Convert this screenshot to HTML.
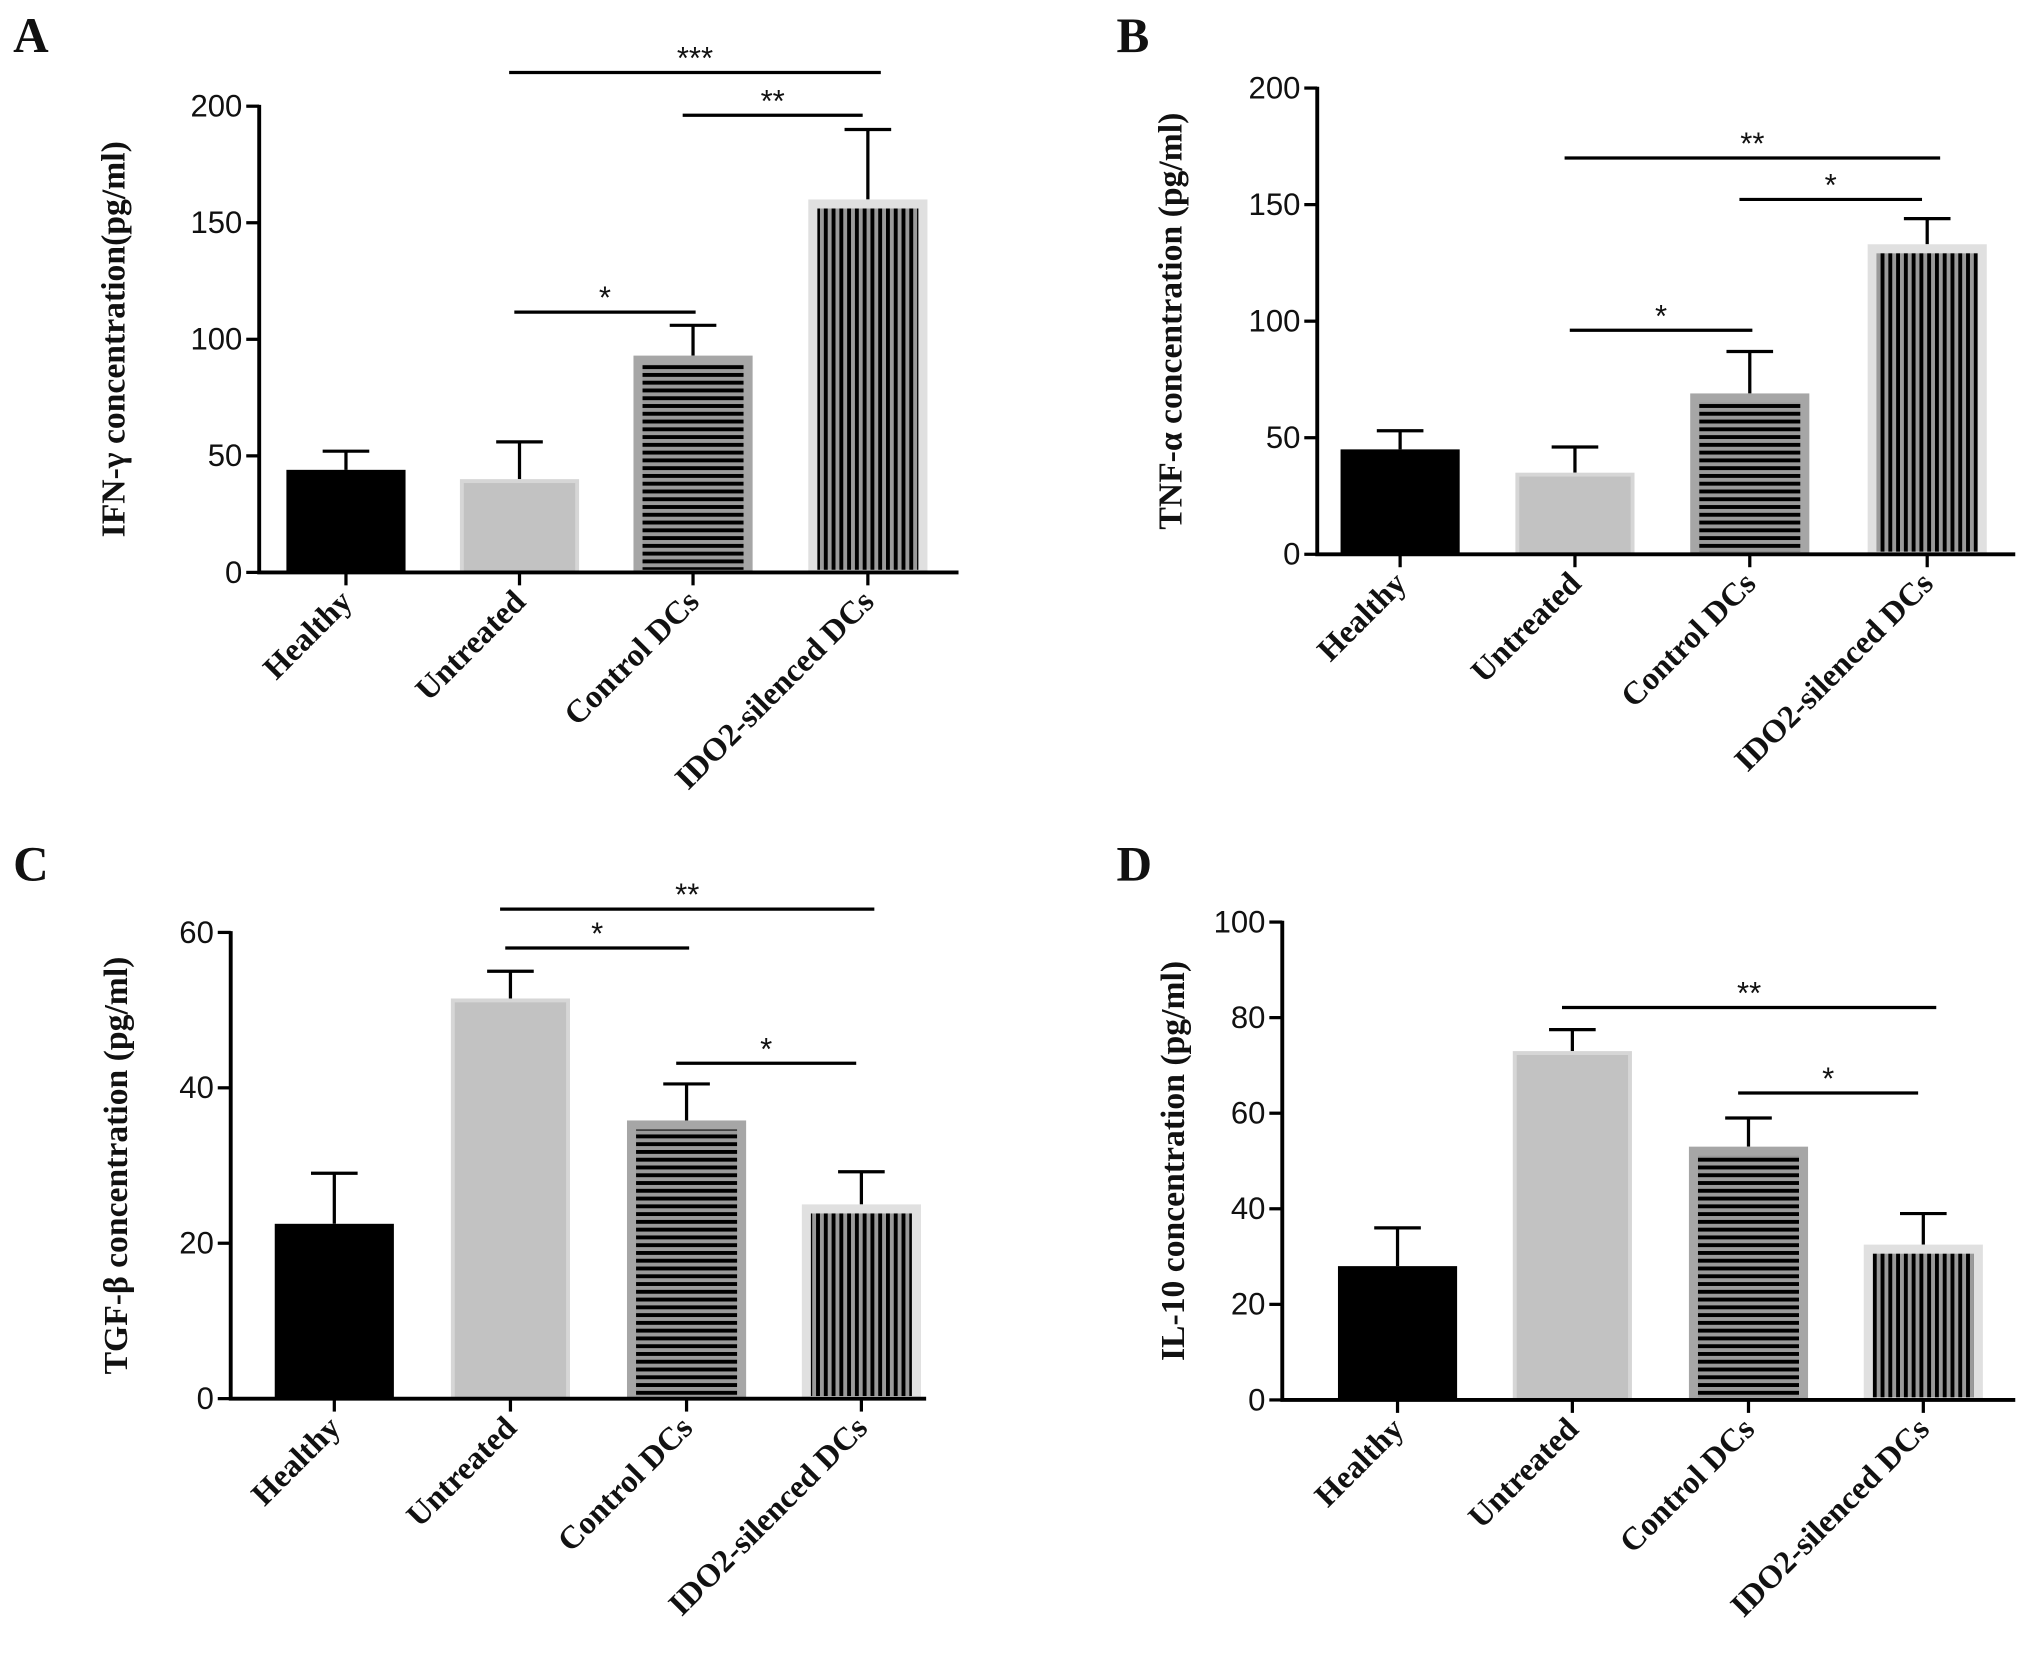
<!DOCTYPE html>
<html><head><meta charset="utf-8"><style>
html,body{margin:0;padding:0;background:#fff;}
svg{display:block;}
.tick{font-family:"Liberation Sans",sans-serif;font-size:24px;fill:#111;}
.lab{font-family:"Liberation Serif",serif;font-size:25px;font-weight:bold;fill:#111;}
.ylab{font-family:"Liberation Serif",serif;font-size:26px;font-weight:bold;fill:#111;}
.let{font-family:"Liberation Serif",serif;font-size:38px;font-weight:bold;fill:#111;}
.star{font-family:"Liberation Sans",sans-serif;font-size:24px;fill:#111;}
</style></head><body>
<svg id="fig" width="2031" height="1668" viewBox="0 0 1568 1288" xmlns="http://www.w3.org/2000/svg">
<defs>
<pattern id="hstripe" width="8" height="6" patternUnits="userSpaceOnUse"><rect width="8" height="6" fill="#9a9a9a"/><rect width="8" height="3" fill="#000"/></pattern>
<pattern id="vstripe" width="6" height="8" patternUnits="userSpaceOnUse"><rect width="6" height="8" fill="#9a9a9a"/><rect width="3" height="8" fill="#000"/></pattern>
</defs>
</svg>
<script>
const categories = ["Healthy","Untreated","Control DCs","IDO2-silenced DCs"];
const valuesA = [44, 40, 93, 160];
const errorsA = [52, 56, 106, 190];
const valuesB = [45, 35, 69, 133];
const errorsB = [53, 46, 87, 144];
const valuesC = [22.5, 51.5, 35.8, 25];
const errorsC = [29, 55, 40.5, 29.2];
const valuesD = [28, 73, 53, 32.5];
const errorsD = [36, 77.5, 59, 39];
const ticksA = [0, 50, 100, 150, 200];
const ticksB = [0, 50, 100, 150, 200];
const ticksC = [0, 20, 40, 60];
const ticksD = [0, 20, 40, 60, 80, 100];
const sigA = [[1,2,"*"],[2,3,"**"],[1,3,"***"]];
const sigB = [[1,2,"*"],[2,3,"*"],[1,3,"**"]];
const sigC = [[1,2,"*"],[2,3,"*"],[1,3,"**"]];
const sigD = [[2,3,"*"],[1,3,"**"]];

const NS = "http://www.w3.org/2000/svg";
const svg = document.getElementById("fig");
function mk(tag, attrs, parent, text){
  const e = document.createElementNS(NS, tag);
  for (const k in attrs) e.setAttribute(k, attrs[k]);
  if (text !== undefined) e.textContent = text;
  (parent || svg).appendChild(e);
  return e;
}
const panels = [
  {id:"a", letter:"A", lx:10, ly:40, ax:200, x1:740, y0:442, yTop:82, max:200, ticks:ticksA, vals:valuesA, errs:errorsA,
   centers:[267,401,535,670], ylabel:"IFN-γ concentration(pg/ml)", ylx:96, sig:sigA, sigY:[241,89,56]},
  {id:"b", letter:"B", lx:862, ly:40, ax:1017, x1:1556, y0:428, yTop:68, max:200, ticks:ticksB, vals:valuesB, errs:errorsB,
   centers:[1081,1216,1351,1488], ylabel:"TNF-α concentration (pg/ml)", ylx:912, sig:sigB, sigY:[255,154,122]},
  {id:"c", letter:"C", lx:10, ly:680, ax:178, x1:715, y0:1080, yTop:720, max:60, ticks:ticksC, vals:valuesC, errs:errorsC,
   centers:[258,394,530,665], ylabel:"TGF-β concentration (pg/ml)", ylx:98, sig:sigC, sigY:[732,821,702]},
  {id:"d", letter:"D", lx:862, ly:680, ax:990, x1:1556, y0:1081, yTop:712, max:100, ticks:ticksD, vals:valuesD, errs:errorsD,
   centers:[1079,1214,1350,1485], ylabel:"IL-10 concentration (pg/ml)", ylx:914, sig:sigD, sigY:[844,778]}
];
const sigOffsets = {"1-2":[-4,2],"2-3":[-8,-4],"1-3":[-8,10]};
panels.forEach(p => {
  const g = mk("g", {}, svg);
  
  
  const y = v => p.y0 - (v / p.max) * (p.y0 - p.yTop);
  const L = mk("text", {x:p.lx, y:p.ly, class:"let"}, g, p.letter);
  
  
  const bw = 92;
  p.vals.forEach((v, i) => {
    const cx = p.centers[i];
    const e = mk("path", {d:`M${cx} ${y(v)} V${y(p.errs[i])} M${cx-18} ${y(p.errs[i])} H${cx+18}`, stroke:"#000", "stroke-width":2.5, fill:"none"}, g);
    
    
    const bg = mk("g", {}, g);
    
    
    const top = y(v), h = p.y0 - top;
    if (i === 0) {
      mk("rect", {x:cx-bw/2, y:top, width:bw, height:h, fill:"#000"}, bg);
    } else if (i === 1) {
      mk("rect", {x:cx-bw/2, y:top, width:bw, height:h, fill:"#d6d6d6"}, bg);
      mk("rect", {x:cx-bw/2+3, y:top+3, width:bw-6, height:h-3, fill:"#c2c2c2"}, bg);
    } else {
      const border = i === 2 ? "#a6a6a6" : "#e0e0e0";
      mk("rect", {x:cx-bw/2, y:top, width:bw, height:h, fill:border}, bg);
      mk("rect", {x:cx-bw/2+7, y:top+7, width:bw-14, height:Math.max(0,h-9), fill: i === 2 ? "url(#hstripe)" : "url(#vstripe)"}, bg);
    }
    const t = mk("line", {x1:cx, x2:cx, y1:p.y0, y2:p.y0+10, stroke:"#000", "stroke-width":2.5}, g);
    
    
    const lx = cx + 6, ly = p.y0 + 24;
    const tl = mk("text", {x:lx, y:ly, class:"lab", "text-anchor":"end", transform:`rotate(-45 ${lx} ${ly})`}, g, categories[i]);
    
    
  });
  const ax = mk("path", {d:`M${p.ax} ${p.yTop-1} V${p.y0} H${p.x1}`, stroke:"#000", "stroke-width":3, fill:"none"}, g);
  
  
  p.ticks.forEach(t => {
    const tk = mk("line", {x1:p.ax-10, x2:p.ax, y1:y(t), y2:y(t), stroke:"#000", "stroke-width":2.5}, g);
    
    
    const tt = mk("text", {x:p.ax-13, y:y(t)+8, class:"tick", "text-anchor":"end"}, g, String(t));
    
    
  });
  const cy = (p.y0 + p.yTop) / 2;
  const yl = mk("text", {x:p.ylx, y:cy, class:"ylab", "text-anchor":"middle", transform:`rotate(-90 ${p.ylx} ${cy})`}, g, p.ylabel);
  
  
  p.sig.forEach((s, k) => {
    const off = sigOffsets[s[0] + "-" + s[1]];
    const xa = p.centers[s[0]] + off[0], xb = p.centers[s[1]] + off[1], yy = p.sigY[k];
    const ln = mk("line", {x1:xa, x2:xb, y1:yy, y2:yy, stroke:"#000", "stroke-width":2.5}, g);
    
    
    const st = mk("text", {x:(xa+xb)/2, y:yy-3, class:"star", "text-anchor":"middle"}, g, s[2]);
    
    
  });
});
</script>
</body></html>
